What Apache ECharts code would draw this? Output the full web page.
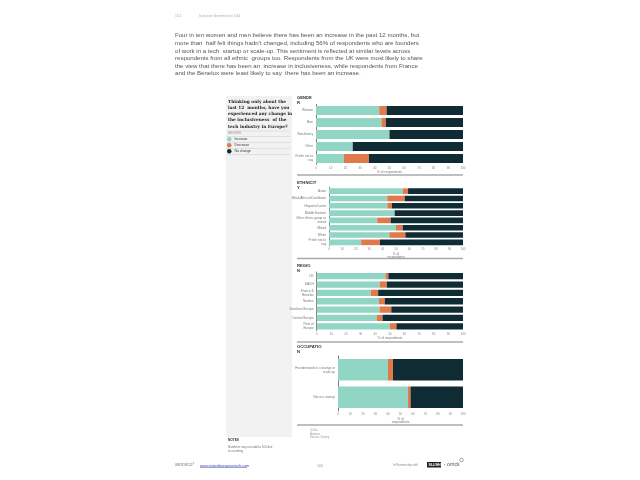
<!DOCTYPE html>
<html><head><meta charset="utf-8">
<script src="https://cdn.jsdelivr.net/npm/echarts@6/dist/echarts.min.js"></script>
<style>html,body{margin:0;padding:0;background:#fff}#c{width:640px;height:480px}</style>
</head><body><div id="c"></div>
<script>
const seriesNames = ['Increase', 'Decrease', 'No change'];
const colors = ['#91d5c5', '#e07a4c', '#0f2b34'];
const xTicks = [0, 10, 20, 30, 40, 50, 60, 70, 80, 90, 100];

const genderCats = ['Woman', 'Man', 'Non-binary', 'Other', 'Prefer not to\nsay'];
const genderIncrease = [43, 44.5, 50, 25, 19];
const genderDecrease = [5, 3, 0, 0, 17];
const genderNoChange = [52, 52.5, 50, 75, 64];

const ethnicityCats = ['Asian', 'Black/African/Caribbean', 'Hispanic/Latinx', 'Middle Eastern', 'Other ethnic group or\nmixed', 'Mixed', 'White', 'Prefer not to\nsay'];
const ethnicityIncrease = [55, 43.5, 43.5, 49, 36, 50, 45, 24];
const ethnicityDecrease = [4, 13, 3.5, 0, 10, 5, 12, 14];
const ethnicityNoChange = [41, 43.5, 53, 51, 54, 45, 43, 62];

const regionCats = ['UK', 'DACH', 'France &\nBenelux', 'Nordics', 'Southern Europe', 'Central Europe', 'Rest of\nEurope'];
const regionIncrease = [47, 43, 37, 42.5, 43, 41, 50];
const regionDecrease = [2, 5, 5, 4, 8, 4, 4.5];
const regionNoChange = [51, 52, 58, 53.5, 49, 55, 45.5];

const occupationCats = ['Founder/work in a startup or\nscale-up', 'Not in a startup'];
const occupationIncrease = [40, 56];
const occupationDecrease = [4, 2];
const occupationNoChange = [56, 42];

const panels = [
  {cats: genderCats, vals: [genderIncrease, genderDecrease, genderNoChange], left: 316, top: 104.5, height: 60, bar: 9, name: '% of respondents', nameGap: 5},
  {cats: ethnicityCats, vals: [ethnicityIncrease, ethnicityDecrease, ethnicityNoChange], left: 329, top: 187.5, height: 58.5, bar: 5.6, name: '% of\nrespondents', nameGap: 6},
  {cats: regionCats, vals: [regionIncrease, regionDecrease, regionNoChange], left: 316.7, top: 272, height: 58.5, bar: 6.3, name: '% of respondents', nameGap: 5},
  {cats: occupationCats, vals: [occupationIncrease, occupationDecrease, occupationNoChange], left: 338, top: 356, height: 55, bar: 21.5, name: '% of\nrespondents', nameGap: 6}
];

const FONT = 'Liberation Sans';
const grid = [], xAxis = [], yAxis = [], series = [];
panels.forEach((p, i) => {
  grid.push({left: p.left, width: 463 - p.left, top: p.top, height: p.height, containLabel: false});
  xAxis.push({
    type: 'value', gridIndex: i, min: 0, max: 100, interval: 10,
    axisLine: {show: false}, axisTick: {show: false}, splitLine: {show: false},
    axisLabel: {fontSize: 3, color: '#888', margin: 2, fontFamily: FONT, customValues: xTicks},
    name: p.name, nameLocation: 'middle', nameGap: p.nameGap,
    nameTextStyle: {fontSize: 3.2, color: '#777', fontFamily: FONT, lineHeight: 3.6}
  });
  yAxis.push({
    type: 'category', gridIndex: i, data: p.cats, inverse: true,
    axisLine: {show: true, lineStyle: {color: '#444', width: 0.7}}, axisTick: {show: false},
    axisLabel: {fontSize: 3.2, color: '#777', margin: 3, fontFamily: FONT, lineHeight: 3.8}
  });
  p.vals.forEach((v, k) => {
    series.push({
      type: 'bar', name: seriesNames[k], xAxisIndex: i, yAxisIndex: i, stack: 'p' + i,
      data: v, barWidth: p.bar, itemStyle: {color: colors[k]}, silent: true
    });
  });
});

function txt(x, y, text, size, fill, extra) {
  return Object.assign({type: 'text', x: x, y: y, silent: true,
    style: Object.assign({text: text, fontSize: size, fill: fill, fontFamily: FONT}, extra || {})});
}
function hline(x1, x2, y, color, w) {
  return {type: 'line', silent: true, shape: {x1: x1, y1: y, x2: x2, y2: y}, style: {stroke: color, lineWidth: w}};
}

const paragraph = [
  'Four in ten women and men believe there has been an increase in the past 12 months, but',
  'more than  half felt things hadn\u2019t changed, including 56% of respondents who are founders',
  'of work in a tech  startup or scale-up. This sentiment is reflected at similar levels across',
  'respondents from all ethnic  groups too. Respondents from the UK were most likely to share',
  'the view that there has been an  increase in inclusiveness, while respondents from France',
  'and the Benelux were least likely to say  there has been an increase.'
].join('\n');

const graphic = [
  {type: 'rect', silent: true, shape: {x: 226, y: 96, width: 66, height: 341}, style: {fill: '#f2f2f2'}},
  txt(175, 14, '15.1', 3.5, '#aaa'),
  txt(199, 14, 'Inclusion Sentiment in D&I', 3.5, '#aaa'),
  txt(175, 32, paragraph, 6.1, '#555', {lineHeight: 7.6}),
  txt(228, 98.5, 'Thinking only about the\nlast 12  months, have you\nexperienced any change in\nthe inclusiveness  of the\ntech industry in Europe?', 4.3, '#222', {fontWeight: 'bold', lineHeight: 6.2, fontFamily: 'DejaVu Serif'}),
  txt(228, 132, 'ANSWER', 3, '#999'),
  hline(227, 290, 131, '#ccc', 0.5),
  hline(227, 290, 136.5, '#ccc', 0.5),
  hline(227, 290, 142.5, '#ccc', 0.5),
  hline(227, 290, 148.5, '#ccc', 0.5),
  hline(227, 290, 154.5, '#ccc', 0.5),
  txt(297, 96, 'GENDE\nR', 4.2, '#1d2d33', {fontWeight: 'bold', lineHeight: 4.6}),
  txt(297, 180.5, 'ETHNICIT\nY', 4.2, '#1d2d33', {fontWeight: 'bold', lineHeight: 4.6}),
  txt(297, 264, 'REGIO\nN', 4.2, '#1d2d33', {fontWeight: 'bold', lineHeight: 4.6}),
  txt(297, 345, 'OCCUPATIO\nN', 4.2, '#1d2d33', {fontWeight: 'bold', lineHeight: 4.6}),
  hline(297, 463, 175, '#aaa', 1.5),
  hline(297, 463, 258.5, '#aaa', 1.5),
  hline(297, 463, 342, '#aaa', 1.5),
  hline(297, 463, 425, '#aaa', 1.5),
  txt(310, 429, 'Q4.5a\nAtomico\nSource: Survey', 2.8, '#999', {lineHeight: 3.2}),
  txt(228, 439, 'NOTES', 3.2, '#333', {fontWeight: 'bold'}),
  txt(228, 445, 'Numbers may not add to 100 due\nto rounding', 3, '#777', {lineHeight: 3.8}),
  txt(175, 462.5, 'atomico\u00b0', 5, '#888'),
  txt(200, 463.5, 'www.stateofeuropeantech.com', 3.6, '#3545b0'),
  hline(200, 247, 467.5, '#3545b0', 0.5),
  txt(317, 463.5, '100', 3.6, '#999'),
  txt(393, 464, 'In Partnership with', 3, '#888'),
  {type: 'rect', silent: true, shape: {x: 427, y: 462, width: 14, height: 5.5}, style: {fill: '#222'}},
  txt(428.5, 463, 'SLUSH', 3.6, '#fff', {fontWeight: 'bold'}),
  txt(443.5, 463, '\u00d7', 3.6, '#777'),
  txt(447, 462, 'orrick', 5.2, '#555'),
  {type: 'circle', silent: true, shape: {cx: 461.5, cy: 460, r: 1.8}, style: {fill: 'none', stroke: '#555', lineWidth: 0.5}}
];

const chart = echarts.init(document.getElementById('c'), null, {renderer: 'canvas'});
chart.setOption({
  backgroundColor: '#fff',
  animation: false,
  textStyle: {fontFamily: FONT},
  legend: {
    data: seriesNames, orient: 'vertical', left: 227, top: 137, icon: 'circle',
    itemWidth: 4.5, itemHeight: 4.5, itemGap: 1.5, padding: 0,
    textStyle: {fontSize: 3.4, color: '#333', padding: [0, 0, 0, -2]}, selectedMode: false
  },
  grid: grid, xAxis: xAxis, yAxis: yAxis, series: series, graphic: graphic
});
</script>
</body></html>
